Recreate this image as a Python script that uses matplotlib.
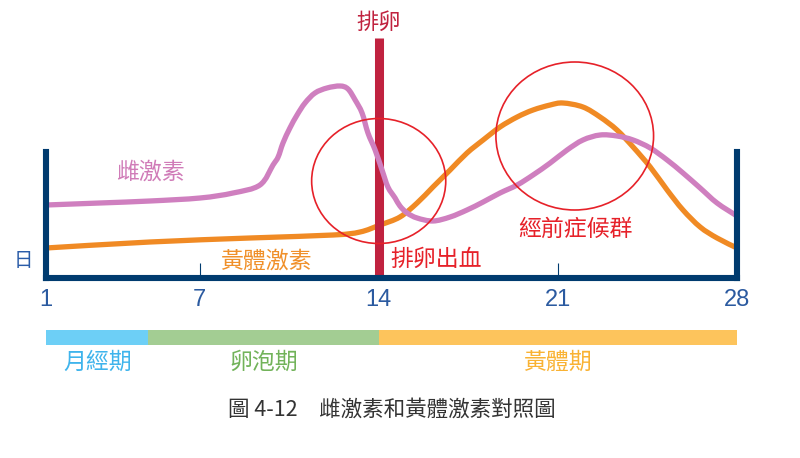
import matplotlib
matplotlib.use('Agg')
import matplotlib.pyplot as plt
from matplotlib.patches import Ellipse, PathPatch
from matplotlib.path import Path

plt.rcParams['font.family'] = ['Noto Sans CJK TC', 'DejaVu Sans']

# Zyklustage und Hormonverlauf
estrogen_day = [1.0, 3.1, 5.06, 7.02, 8.31, 9.36, 9.87, 10.07, 10.26, 10.53, 10.81,
                11.12, 11.51, 11.98, 12.49, 12.80, 13.08, 13.35, 13.58, 13.86, 14.13,
                14.36, 14.64, 14.83, 15.11, 15.50, 16.12, 16.79, 17.45, 18.08, 18.74,
                19.41, 20.03, 20.70, 21.36, 21.98, 22.65, 23.31, 23.94, 24.61, 25.27,
                25.89, 26.56, 27.22, 28.0]
estrogen = [73, 75, 77, 80, 85, 93, 113, 121, 135, 150, 163,
            175, 185, 190, 192, 189, 178, 165, 145, 128, 108,
            91, 80, 72, 65, 60, 57, 61, 68, 76, 85,
            93, 103, 115, 128, 138, 143, 142, 138, 130, 118,
            105, 90, 75, 62]

progesterone_day = [1.0, 5.06, 8.97, 12.22, 13.27, 14.05, 14.83, 15.50, 16.12, 16.79,
                    17.45, 18.08, 18.74, 19.41, 20.03, 20.70, 21.20, 21.98, 22.65, 23.31,
                    23.94, 24.61, 25.27, 25.89, 26.56, 27.22, 28.0]
progesterone = [30, 36, 40, 43, 46, 53, 61, 75, 91, 108,
                125, 138, 151, 161, 168, 173, 175, 171, 161, 148,
                131, 111, 88, 68, 51, 40, 30]

day_ticks = [1, 7, 14, 21, 28]
ovulation_day = 14

phase_names = ['月經期', '卵泡期', '黃體期']
phase_start = [1, 5, 14]
phase_end = [5, 14, 28]
phase_colors = ['#6dcff6', '#a3cd93', '#fdc45c']
phase_text_colors = ['#3fb4ec', '#72b35a', '#f9b233']

navy = '#003b6f'
red = '#e62129'


def smooth_path(xs, ys):
    verts = [(xs[0], ys[0])]
    codes = [Path.MOVETO]
    n = len(xs)
    for i in range(n - 1):
        x0, y0 = (xs[i - 1], ys[i - 1]) if i > 0 else (xs[i], ys[i])
        x1, y1 = xs[i], ys[i]
        x2, y2 = xs[i + 1], ys[i + 1]
        x3, y3 = (xs[i + 2], ys[i + 2]) if i + 2 < n else (x2, y2)
        verts += [(x1 + (x2 - x0) / 6, y1 + (y2 - y0) / 6),
                  (x2 - (x3 - x1) / 6, y2 - (y3 - y1) / 6),
                  (x2, y2)]
        codes += [Path.CURVE4] * 3
    return Path(verts, codes)


fig = plt.figure(figsize=(8, 4.58), dpi=100)
W, H = 800, 458

# Hauptachse: Tag 1 bei x=46 px, Tag 28 bei x=737 px
ax = fig.add_axes([46 / W, (H - 278) / H, 691 / W, 258 / H])
ax.set_xlim(1, 28)
ax.set_ylim(0, 258)

ax.add_patch(PathPatch(smooth_path(progesterone_day, progesterone), fill=False,
                       ec='#f08a24', lw=3.8, capstyle='butt', zorder=2))
ax.plot([ovulation_day, ovulation_day], [0, 240], color='#c0223f', lw=6.5,
        solid_capstyle='butt', zorder=3)
ax.add_patch(PathPatch(smooth_path(estrogen_day, estrogen), fill=False,
                       ec='#cf7fbf', lw=3.8, capstyle='butt', zorder=4))

# Kreise (Markierungen)
ax.add_patch(Ellipse((14.0, 97), 5.24, 125, fill=False, ec=red, lw=1.2, zorder=5))
ax.add_patch(Ellipse((21.66, 142), 6.16, 148, fill=False, ec=red, lw=1.2, zorder=5))

# Rahmen
ax.spines['top'].set_visible(False)
for s in ['left', 'right', 'bottom']:
    ax.spines[s].set_color(navy)
    ax.spines[s].set_linewidth(4.4)
    ax.spines[s].set_zorder(6)
ax.spines['left'].set_bounds(0, 126)
ax.spines['right'].set_bounds(0, 126)
ax.spines['bottom'].set_capstyle('projecting')

ax.set_yticks([])
ax.set_xticks(day_ticks)
ax.set_xticklabels([str(d) for d in day_ticks])
ax.tick_params(axis='x', direction='in', length=11, width=0.8, color=navy,
               pad=8, labelsize=17, labelcolor='#2b5aa0')
for lbl in ax.get_xticklabels():
    lbl.set_family(['Liberation Sans Narrow', 'Liberation Sans', 'DejaVu Sans'])
ax.patch.set_alpha(0)

ax.text(ovulation_day, 256, '排卵', color='#c0223f', fontsize=16,
        ha='center', va='center', clip_on=False)
ax.text(5.06, 106, '雌激素', color='#d07cb8', fontsize=16.5, ha='center', va='center')
ax.text(9.6, 17, '黃體激素', color='#f0902a', fontsize=16.5, ha='center', va='center')
ax.text(16.26, 19, '排卵出血', color=red, fontsize=16.5, ha='center', va='center')
ax.text(21.67, 49, '經前症候群', color=red, fontsize=16.5, ha='center', va='center')
ax.text(0.1, 17, '日', color='#2a5ca8', fontsize=14, ha='center', va='center',
        clip_on=False)

# Phasenbalken
ax2 = fig.add_axes([46 / W, (H - 345) / H, 691 / W, 15 / H])
ax2.set_xlim(1, 28)
ax2.set_ylim(0, 1)
ax2.barh([0.5] * 3, [e - s for s, e in zip(phase_start, phase_end)], left=phase_start,
         height=1, color=phase_colors)
for name, s, e, c in zip(phase_names, phase_start, phase_end, phase_text_colors):
    ax2.text((s + e) / 2, -1.15, name, color=c, fontsize=16.5, ha='center', va='center',
             clip_on=False)
ax2.axis('off')

fig.text(392 / W, 1 - 410 / H, '圖 4-12　雌激素和黃體激素對照圖', color='#333333',
         fontsize=15.5, ha='center', va='center')

fig.savefig('out.png', dpi=100)
